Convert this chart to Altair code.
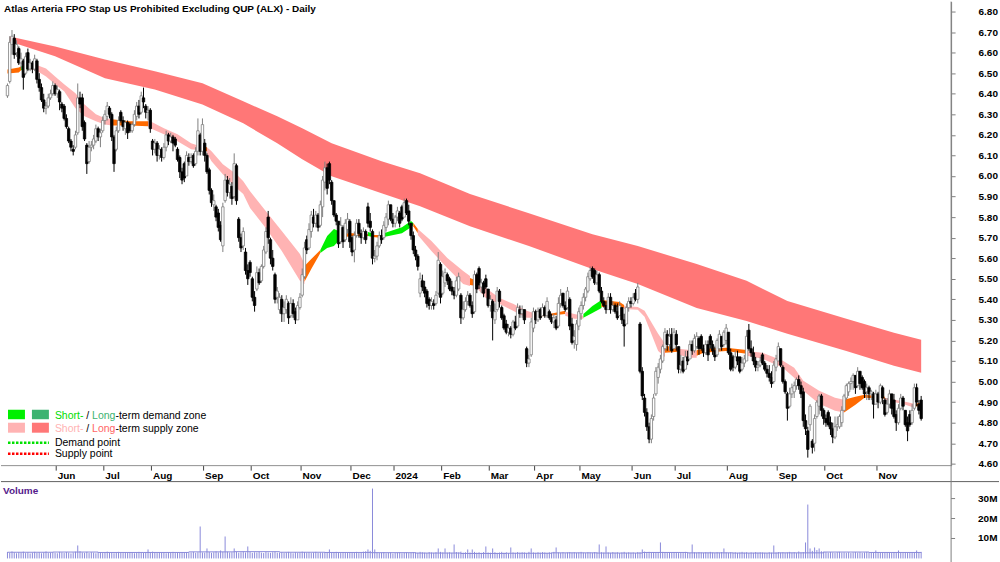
import json
import altair as alt
import pandas as pd

FONT = "Liberation Sans, Arial, Helvetica, sans-serif"

TITLE = "Atlas Arteria FPO Stap US Prohibited Excluding QUP (ALX) - Daily"

# ---- daily candles (cents) ----
opens = [639,646,664,667,660,662,655,656,650,660, 652,655,652,656,647,643,637,633,634,638,
         640,644,640,641,635,634,628,623,617,613, 614,621,638,638,626,615,607,614,615,617,
         623,619,622,627,629,633,630,619,613,622, 631,627,623,626,625,622,625,629,634,631,
         638,634,631,632,617,613,616,610,613,609, 614,620,617,619,618,613,609,602,606,600,
         609,607,610,606,612,620,612,616,610,603, 593,586,585,582,576,566,588,598,592,595,
         590,605,579,570,566,563,554,558,550,541, 545,553,549,556,563,580,569,560,552,541,
         535,540,533,535,538,532,538,534,530,536, 542,551,569,565,573,580,577,581,576,585,
         597,604,606,597,588,581,578,568,575,569, 574,578,570,564,571,577,572,570,573,585,
         578,573,560,561,566,571,570,575,579,586, 579,577,580,582,585,580,588,583,577,571,
         564,561,543,549,546,544,540,537,538,538, 543,557,543,548,552,550,546,544,542,545,
         542,531,535,539,542,537,534,552,555,546, 548,550,545,537,539,530,535,544,536,532,
         528,524,526,523,529,527,535,533,535,516, 509,513,526,534,530,535,532,536,532,534,
         531,529,530,527,538,543,537,536,540,528, 520,518,527,533,537,541,544,550,555,554,
         548,552,544,539,537,535,541,535,537,534, 532,536,530,528,536,539,538,543,540,528,
         505,492,485,478,472,483,494,502,506,510, 516,523,518,523,516,523,517,506,510,506,
         512,511,518,515,517,521,522,516,514,518, 522,518,515,513,516,522,518,520,524,514,
         512,507,512,512,506,509,510,525,516,514, 510,507,508,513,509,506,504,502,500,507,
         510,516,507,500,494,488,494,495,498,501, 498,495,481,476,479,471,470,483,488,493,
         486,482,485,480,477,473,478,478,480,486, 492,495,499,500,503,498,505,502,500,495,
         497,494,494,489,494,490,497,491,485,489, 494,491,484,480,487,492,486,480,484,480,
         487,497,489,491]
highs = [645,668,671,669,666,663,660,657,660,662, 657,656,659,657,650,645,640,636,640,642,
         646,645,644,642,636,635,630,624,618,615, 622,645,641,640,627,616,617,617,620,625,
         624,623,629,632,636,634,631,620,624,629, 632,629,627,627,626,626,632,636,637,641,
         643,635,634,633,618,618,617,615,614,616, 622,621,621,620,619,614,610,604,607,612,
         611,611,611,614,628,621,628,618,611,604, 594,591,586,584,578,587,601,600,599,597,
         611,606,580,572,575,565,557,559,551,544, 556,555,557,566,575,583,570,564,553,546,
         543,542,539,542,539,541,540,536,539,543, 555,568,571,577,583,584,583,582,588,600,
         607,606,607,598,588,582,578,580,576,579, 582,579,571,573,579,579,574,575,574,587,
         582,574,564,568,573,574,578,582,588,586, 582,581,585,583,586,589,589,586,577,573,
         566,562,553,552,549,545,541,541,540,544, 563,558,554,555,553,551,549,546,551,553,
         543,539,541,544,543,539,554,553,556,550, 549,552,545,542,540,538,546,545,537,533,
         530,528,527,530,532,538,537,537,535,517, 513,531,536,535,536,536,538,537,541,535,
         533,533,532,541,545,543,539,546,541,531, 525,530,536,539,543,546,553,556,556,555,
         554,553,546,541,539,543,543,539,538,538, 539,536,533,538,541,541,543,545,548,529,
         507,494,487,480,484,494,507,509,513,518, 526,525,526,526,526,525,517,513,512,515,
         515,520,520,523,524,522,523,518,520,520, 523,520,517,521,525,522,525,528,524,516,
         513,515,515,512,512,513,525,528,520,517, 512,510,512,514,510,508,508,505,510,513,
         519,516,508,501,495,497,499,500,502,503, 500,497,484,478,489,472,484,491,494,494,
         487,484,486,483,480,483,483,484,488,494, 499,500,502,504,503,507,505,503,501,499,
         498,496,495,496,495,499,498,492,492,496, 494,494,486,489,494,493,486,483,486,489,
         499,499,491,493]
lows = [638,645,659,657,658,654,652,642,649,651, 651,650,651,645,641,636,631,630,633,637,
        639,639,638,632,631,627,623,616,612,610, 613,620,633,622,617,601,606,612,613,616,
        617,614,621,625,627,628,617,602,612,621, 626,622,620,618,621,621,624,627,628,630,
        633,628,627,621,610,611,607,608,607,608, 612,615,616,612,614,607,599,596,597,600,
        605,606,604,605,610,610,610,607,601,591, 585,583,578,573,568,563,587,590,589,586,
        589,586,568,563,564,552,547,551,539,534, 544,547,548,555,562,567,557,554,538,538,
        533,529,529,533,528,531,531,528,530,535, 541,550,562,564,570,575,575,573,575,580,
        593,591,596,586,580,576,565,567,565,568, 572,565,561,558,570,570,567,569,567,575,
        573,557,558,559,565,567,569,573,576,578, 575,575,578,575,578,580,581,576,569,562,
        559,554,541,544,541,536,535,535,535,537, 542,538,542,546,547,544,542,540,541,544,
        528,530,534,537,536,531,533,543,545,543, 541,545,536,534,520,528,534,536,530,525,
        523,522,521,522,525,526,531,531,528,507, 507,512,524,528,529,530,532,531,531,530,
        528,526,525,526,536,536,534,535,525,518, 516,515,525,530,535,539,543,549,550,547,
        547,543,538,536,533,535,533,534,533,530, 532,528,517,528,534,536,537,539,538,504,
        491,483,476,470,470,481,493,499,504,509, 515,515,515,514,516,515,504,504,504,506,
        508,511,513,514,516,513,515,512,513,510, 516,513,510,512,515,515,517,518,513,505,
        505,506,508,504,505,507,510,515,512,508, 505,505,507,508,505,502,500,497,499,505,
        510,507,499,494,481,487,492,492,496,496, 492,478,474,463,476,465,466,482,484,483,
        479,478,478,474,470,472,476,477,478,486, 491,493,496,496,494,497,496,496,492,491,
        491,491,482,489,487,489,489,483,484,487, 484,482,476,479,486,486,478,471,478,479,
        486,488,484,481]
closes = [644,665,668,659,664,655,657,648,658,652, 655,652,657,647,643,637,633,634,638,640,
          644,640,642,636,633,628,624,617,614,612, 620,638,635,624,618,606,614,615,618,623,
          619,621,627,630,634,630,619,606,622,627, 627,624,626,621,622,625,630,634,630,639,
          636,631,632,623,613,616,610,613,609,614, 620,617,619,616,615,608,602,598,599,610,
          607,609,605,612,622,612,625,610,602,593, 587,588,580,575,569,585,598,592,596,589,
          606,588,570,565,573,554,550,553,541,537, 553,548,556,564,573,570,560,556,540,544,
          541,533,536,540,531,538,533,530,537,541, 552,565,564,574,581,577,581,575,586,598,
          604,594,598,588,581,578,567,576,568,577, 579,568,563,571,577,572,570,573,569,577,
          575,560,561,566,571,569,576,580,586,579, 577,580,583,577,579,587,582,578,571,564,
          561,556,550,546,543,538,537,539,537,542, 559,541,551,553,549,545,544,542,549,551,
          531,535,539,542,537,533,552,545,547,548, 543,546,537,540,531,534,544,539,531,526,
          524,526,523,529,526,536,533,535,530,509, 511,529,534,530,534,531,536,532,539,531,
          529,531,526,538,542,537,535,544,527,519, 522,528,534,537,541,545,551,554,551,548,
          552,544,539,537,535,541,535,537,534,531, 537,530,527,536,539,538,541,540,546,505,
          493,485,478,472,482,492,505,507,511,517, 524,518,522,515,524,518,506,508,505,512,
          510,518,515,521,522,516,516,514,518,513, 518,515,512,520,523,517,524,526,514,506,
          507,512,510,505,509,511,522,516,514,510, 507,508,510,509,506,504,502,499,508,511,
          517,508,500,495,487,494,497,498,501,498, 494,481,477,467,488,468,482,490,493,486,
          482,480,479,477,473,478,479,483,486,493, 498,499,500,503,497,505,499,497,494,497,
          494,495,489,494,490,498,492,484,489,494, 487,483,480,487,492,488,479,476,479,486,
          497,490,486,482]

# ---- daily volume (units of 100k shares) ----
volumes = [32,28,35,30,26,31,29,34,27,30, 25,29,33,28,31,26,30,35,27,29, 31,28,26,33,30,27,32,29,25,30, 34,65,36,30,28,33,27,31,29,26,
           30,32,27,29,34,28,31,26,30,33, 29,27,31,28,32,30,26,29,33,27, 30,28,45,31,34,29,27,32,30,28, 26,31,29,33,27,30,28,32,29,31,
           27,30,33,28,31,160,30,29,50,32, 28,31,35,30,40,33,110,34,30,31, 50,33,29,31,35,30,60,32,28,31, 30,34,29,27,32,30,28,31,33,29,
           28,31,27,30,33,29,26,31,28,30, 34,32,29,31,27,30,33,28,30,29, 32,31,45,30,28,33,29,27,31,30, 28,32,30,29,33,27,31,34,36,45,
           38,350,45,30,27,29,31,26,28,30, 25,27,29,31,26,28,30,27,29,32, 30,28,33,31,29,27,32,30,28,31, 50,33,30,50,29,31,28,70,32,30,
           34,29,31,45,30,45,33,29,31,28, 32,60,30,29,50,31,28,30,33,29, 31,27,55,30,28,32,29,31,30,27, 33,50,30,28,31,29,32,30,28,31,
           29,33,55,30,28,31,27,30,32,29, 31,28,30,33,29,27,31,30,28,32, 30,70,31,29,60,30,28,32,29,31, 27,30,33,28,31,29,30,27,32,31,
           45,34,31,33,30,32,29,31,80,33, 30,28,31,29,32,30,27,31,29,33, 30,28,70,31,29,32,30,28,31,29, 33,30,27,31,29,32,50,30,28,31,
           29,31,28,30,33,29,31,27,30,28, 32,29,31,30,28,27,31,29,65,30, 32,29,31,28,30,33,29,31,27,35, 30,32,80,270,50,38,55,42,50,36,
           34,31,29,32,30,28,31,33,29,30, 28,31,27,30,32,29,31,28,30,33, 29,31,28,40,30,29,31,28,32,30, 27,31,29,40,30,28,32,29,31,30,
           28,40,31,33]

# ---- volume average line (units of 100k shares) ----
vma_i = [0, 20, 40, 60, 80, 100, 120, 140, 160, 180, 200, 220, 240, 260, 280, 300, 320, 340, 360, 380, 403]
vma_v = [31, 32, 30, 30, 33, 34, 31, 30, 29, 27, 25, 26, 28, 27, 30, 28, 27, 28, 32, 30, 29]

# ---- long-term supply zone (cents) ----
lt_i = [1, 21, 43, 65, 86, 104, 119, 130, 143, 165, 182, 204, 230, 258, 278, 304, 326, 344, 370, 391, 403]
lt_top = [667.9, 663.0, 656.7, 650.9, 645.1, 636.3, 629.0, 623.2, 615.9, 607.2, 601.3, 591.2, 581.9,
          571.7, 565.9, 557.2, 549.0, 539.2, 530.5, 523.7, 520.3]
lt_bot = [665.4, 658.2, 647.5, 642.1, 634.8, 625.6, 615.9, 608.2, 599.9, 591.6, 585.3, 575.6, 565.9,
          554.8, 547.5, 535.8, 529.5, 523.2, 514.9, 507.7, 504.3]

# ---- short-term zone segments (S = supply, G = demand, O = overlap) ----
seg_zone = ["O","G","S","O","S","O","S","O","G","O","G","O","G","O","S","O","S","O","S","G","O","S","O","S","O","S","O","S","O"]
seg_len = [3,2,10,3,6,2,10,3,4,3,2,2,4,2,5,2,6,3,3,3,3,5,2,3,4,8,4,3,2]
st_i = [0,5,6, 6,9, 9,12,17,21,25,30,34,39,43,46, 46,54,62, 62,63,69,75,81,85, 85,88,
        88,90,95,101,104,107,114,121,129,131, 131,134,138, 138,141,144,146, 146,152,159,
        159,161, 161,166, 166,174,178,179, 179,181, 181,187,194,201,204, 204,207,
        207,211,217,223,229,232, 232,239,246, 246,250,254, 254,258,262, 262,270,272,
        272,278,281,287,290, 290,296, 296,301,304, 304,307,317,326,
        326,333,342,347,351,358,365,369, 369,374,378,387, 387,396,400, 400,403]
st_hi = [651.8,652.8,653.3, 653.3,654.3, 654.3,654.3,652.3,648.4,644.6,640.2,634.8,630.0,628.1,627.6,
         627.6,626.6,626.6, 626.6,626.6,623.2,620.3,615.9,614.5, 614.5,614.0,
         614.0,612.0,605.7,600.9,597.5,592.6,582.9,573.2,562.0,557.2, 556.2,559.6,564.0,
         564.0,570.8,574.2,573.2, 572.2,572.2,571.7, 572.7,572.2, 571.3,571.3,
         572.2,575.1,578.1,577.1, 577.1,574.2, 574.2,568.4,560.1,553.8,551.4, 550.4,549.0,
         548.5,545.5,540.7,537.8,534.4,533.4, 533.4,532.9,534.4, 533.9,532.9,532.0,
         532.9,536.8,539.7, 539.7,538.7,537.3, 536.8,536.3,534.4,523.2,518.4, 517.4,516.4,
         515.9,515.4,514.9, 515.4,515.9,516.4,515.4,
         514.9,514.0,510.1,506.7,500.4,495.5,492.1,491.2, 491.2,492.6,493.6,492.6,
         492.1,490.2,489.2, 489.2,489.7]
st_lo = [649.9,650.4,651.4, 651.4,651.8, 651.8,651.8,648.4,644.6,641.2,632.9,629.0,626.6,625.1,624.6,
         624.6,624.6,624.2, 624.2,623.2,620.3,616.9,613.0,612.5, 612.5,612.0,
         611.1,607.2,600.9,594.1,591.2,584.4,574.6,563.5,549.0,547.5, 548.5,554.8,562.5,
         562.5,565.0,565.9,568.4, 569.8,570.8,570.8, 570.8,570.3, 570.3,569.8,
         570.3,572.2,575.1,576.1, 575.6,572.2, 571.3,563.5,555.2,547.5,546.5, 547.0,546.5,
         545.5,540.7,537.8,534.4,531.0,531.0, 531.5,532.0,532.9, 532.0,530.5,530.5,
         531.0,533.4,535.8, 536.3,536.3,535.8, 535.3,534.9,531.5,514.9,512.0, 514.0,514.5,
         513.0,511.6,511.6, 512.5,514.0,514.9,513.5,
         512.5,511.1,506.7,501.9,495.5,489.2,485.8,484.9, 484.9,488.7,492.1,491.7,
         491.2,488.7,487.3, 487.8,488.3]

# ---- axes ----
month_pos = [21.5, 42.5, 63.5, 86.5, 107.5, 129.5, 151.5, 170.5, 191.5, 212.5, 232.5, 252.5,
             275.5, 294.5, 317.5, 339.5, 360.5, 383.5]
month_lbl = ["Jun", "Jul", "Aug", "Sep", "Oct", "Nov", "Dec", "2024", "Feb", "Mar", "Apr", "May",
             "Jun", "Jul", "Aug", "Sep", "Oct", "Nov"]
price_ticks = [4.6, 4.7, 4.8, 4.9, 5.0, 5.1, 5.2, 5.3, 5.4, 5.5, 5.6, 5.7, 5.8, 5.9, 6.0,
               6.1, 6.2, 6.3, 6.4, 6.5, 6.6, 6.7, 6.8]
vol_ticks = [10e6, 20e6, 30e6]
vol_tick_lbl = ["10M", "20M", "30M"]

# ---- tables ----
N = len(opens)
candles = pd.DataFrame({
    "i": list(range(N)),
    "o": [v / 100 for v in opens],
    "h": [v / 100 for v in highs],
    "l": [v / 100 for v in lows],
    "c": [v / 100 for v in closes],
})
vol = pd.DataFrame({"i": list(range(N)), "v": [v * 1e5 for v in volumes]})
vma = pd.DataFrame({"i": vma_i, "v": [v * 1e5 for v in vma_v]})
lt = pd.DataFrame({"i": lt_i, "top": [v / 100 for v in lt_top], "bot": [v / 100 for v in lt_bot]})
months = pd.DataFrame({"i": month_pos, "t": month_lbl})
rows = []
k = 0
for s, (n, z) in enumerate(zip(seg_len, seg_zone)):
    for _ in range(n):
        rows.append({"i": st_i[k], "top": st_hi[k] / 100, "bot": st_lo[k] / 100, "seg": s, "zone": z})
        k += 1
st = pd.DataFrame(rows)

xscale = alt.Scale(domain=[-0.65, 414.0], nice=False, zero=False)
X = alt.X("i:Q", scale=xscale, axis=None, title=None)

yscale = alt.Scale(domain=[4.591, 6.8485], range=[465, 0], nice=False, zero=False)
yaxis = alt.Axis(orient="right", values=price_ticks, format=".2f", tickSize=4,
                 tickColor="#808080", domainColor="#808080", labelPadding=23,
                 labelAlign="left", labelFont=FONT, labelFontSize=10, labelFontWeight="bold",
                 labelColor="black", grid=False, title=None, labelOverlap=False)


def Yp(field):
    return alt.Y(field, scale=yscale, axis=yaxis, title=None)


long_band = alt.Chart(lt).mark_area(color="#FF7777", opacity=1).encode(
    x=X, y=Yp("top:Q"), y2="bot:Q")
short_band = alt.Chart(st).mark_area(opacity=1).encode(
    x=X, y=Yp("top:Q"), y2="bot:Q",
    color=alt.Color("zone:N", scale=alt.Scale(domain=["S", "O", "G"],
                                              range=["#FFB3B3", "#FF6A00", "#00F000"]), legend=None),
    detail="seg:N")
up = "datum.c >= datum.o"
wicks = alt.Chart(candles).mark_rule(strokeWidth=1).encode(
    x=X, y=Yp("l:Q"), y2="h:Q",
    color=alt.condition(up, alt.value("#7F7F7F"), alt.value("#000000")))
bodies = alt.Chart(candles).mark_bar(size=2.4, strokeWidth=0.8).encode(
    x=X, y=Yp("o:Q"), y2="c:Q",
    fill=alt.condition(up, alt.value("#FFFFFF"), alt.value("#000000")),
    stroke=alt.condition(up, alt.value("#7F7F7F"), alt.value("#000000")))
price = alt.layer(long_band, short_band, wicks, bodies)

# month axis (ticks + labels below the price panel)
month_ticks = alt.Chart(months).mark_rule(color="#404040").encode(
    x=X, y=alt.value(465), y2=alt.value(470))
month_text = alt.Chart(months).mark_text(align="left", baseline="alphabetic", dx=1.5, font=FONT,
                                         fontSize=10, fontWeight="bold", color="black").encode(
    x=X, y=alt.value(478), text="t:N")

vscale = alt.Scale(domain=[0, 38.5e6], range=[558, 481], nice=False, zero=False)
vbars = alt.Chart(vol).mark_rule(strokeWidth=1, color="#8A8ADA").encode(
    x=X, y=alt.Y("v:Q", scale=vscale, axis=None, title=None), y2=alt.datum(0))
vline = alt.Chart(vma).mark_line(strokeWidth=1, color="#8A8ADA", interpolate="step-after").encode(
    x=X, y=alt.Y("v:Q", scale=vscale, axis=None, title=None))
vdf = pd.DataFrame({"v": vol_ticks, "t": vol_tick_lbl})
vtickmarks = alt.Chart(vdf).mark_rule(color="#808080").encode(
    x=alt.value(952), x2=alt.value(956), y=alt.Y("v:Q", scale=vscale, axis=None, title=None))
vlabels = alt.Chart(vdf).mark_text(align="left", baseline="middle", font=FONT, fontSize=10,
                                   fontWeight="bold", color="black").encode(
    x=alt.value(979), y=alt.Y("v:Q", scale=vscale, axis=None, title=None), text="t:N")
volume = alt.layer(vbars, vline, vtickmarks, vlabels)

one = pd.DataFrame({"a": [0]})


def txt(t, x, y, color="black", size=10.5, weight="normal"):
    return alt.Chart(one).mark_text(align="left", baseline="alphabetic", font=FONT, fontSize=size,
                                    fontWeight=weight, color=color, text=t).encode(
        x=alt.value(x), y=alt.value(y))


def rect(x1, x2, y1, y2, color):
    return alt.Chart(one).mark_rect(color=color).encode(
        x=alt.value(x1), x2=alt.value(x2), y=alt.value(y1), y2=alt.value(y2))


def hline(x1, x2, y, color, width=1, dash=None):
    kw = dict(color=color, strokeWidth=width)
    if dash:
        kw["strokeDash"] = dash
    return alt.Chart(one).mark_rule(**kw).encode(x=alt.value(x1), x2=alt.value(x2), y=alt.value(y))


decor = [
    txt(TITLE, 3, 10.5, size=10, weight="bold"),
    txt("Volume", 2, 493, color="#551A8B", size=10, weight="bold"),
    hline(0, 952, 465, "#909090"),
    hline(0, 1000, 481, "#606060"),
    alt.Chart(one).mark_rule(color="#808080").encode(x=alt.value(952), y=alt.value(0), y2=alt.value(562)),
    rect(7, 24, 409, 418.5, "#00F000"),
    rect(31, 48, 409, 418.5, "#3CB371"),
    rect(7, 24, 422, 432, "#FFB3B3"),
    rect(31, 48, 422, 432, "#FF7777"),
    hline(7, 48, 442, "#00E000", 2.5, [2.5, 1.5]),
    hline(7, 48, 453, "#FF0000", 2.5, [2.5, 1.5]),
    txt("Short-", 54, 418, color="#00DD00"),
    txt("/", 85.5, 418),
    txt("Long", 91.3, 418, color="#3CB371"),
    txt("-term demand zone", 114.7, 418),
    txt("Short-", 54, 431.5, color="#FFB3B3"),
    txt("/", 85.5, 431.5),
    txt("Long", 91.3, 431.5, color="#FF6666"),
    txt("-term supply zone", 114.7, 431.5),
    txt("Demand point", 54, 445),
    txt("Supply point", 54, 456.5),
]

chart = alt.layer(price, month_ticks, month_text, volume, *decor).resolve_scale(y="independent").properties(
    width=952, height=562, padding={"left": 0, "top": 0, "right": 0, "bottom": 0},
    background="white"
).configure_view(stroke=None)

chart.save("out.html", embed_options={"renderer": "svg", "actions": False})
